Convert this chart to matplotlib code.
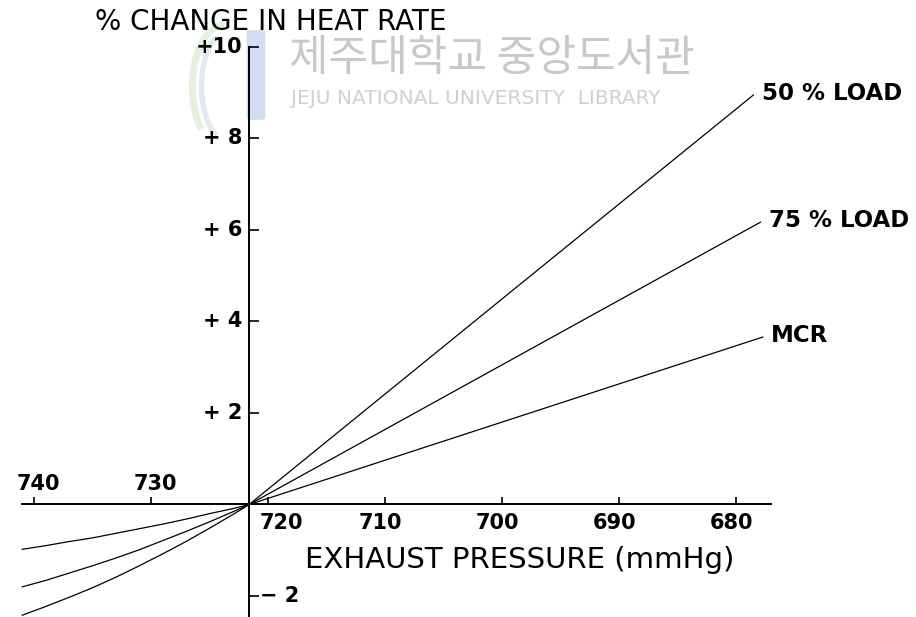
import matplotlib
matplotlib.use("Agg")
import matplotlib.pyplot as plt
from matplotlib.patches import FancyBboxPatch, Arc

# exhaust pressure (mmHg) and % change in heat rate
origin_p = 721.6
left_p = [741, 739, 737, 735, 733, 731, 729, 727, 725, 723, origin_p]

mcr_p = left_p + [700.0, 677.7]
mcr_v = [-0.98, -0.90, -0.81, -0.73, -0.63, -0.53, -0.43, -0.32, -0.20, -0.09, 0.0, 1.80, 3.66]

load75_p = left_p + [700.0, 677.9]
load75_v = [-1.80, -1.66, -1.50, -1.34, -1.17, -0.99, -0.79, -0.59, -0.38, -0.16, 0.0, 3.05, 6.17]

load50_p = left_p + [700.0, 678.5]
load50_v = [-2.42, -2.23, -2.03, -1.82, -1.59, -1.34, -1.08, -0.81, -0.52, -0.22, 0.0, 4.49, 8.95]

series_names = ["50 % LOAD", "75 % LOAD", "MCR"]

x_ticks = [740, 730, 720, 710, 700, 690, 680]
x_upper = ["740", "730"]
x_lower = ["720", "710", "700", "690", "680"]
y_ticks = [10, 8, 6, 4, 2, -2]
y_labels = ["+10", "+ 8", "+ 6", "+ 4", "+ 2", "\u2212 2"]

fig = plt.figure(figsize=(9.16, 6.17), dpi=100)
ax = fig.add_axes([0, 0, 1, 1])
ax.set_xlim(742.9, 664.6)
ax.set_ylim(-2.459, 11.027)

# cross-shaped axes through (origin_p, 0)
for side in ("top", "right"):
    ax.spines[side].set_visible(False)
ax.spines["left"].set_position(("data", origin_p))
ax.spines["bottom"].set_position(("data", 0))
ax.spines["left"].set_bounds(-2.459, 10)
ax.spines["bottom"].set_bounds(677.0, 741.0)
for side in ("left", "bottom"):
    ax.spines[side].set_linewidth(1.4)
    ax.spines[side].set_zorder(4)
ax.set_xticks(x_ticks)
ax.set_yticks(y_ticks)
ax.tick_params(axis="x", direction="in", length=5, width=1.2, labelbottom=False)
ax.tick_params(axis="y", direction="in", length=7, width=1.2, labelleft=False)
ax.patch.set_visible(False)

tick_font = dict(family="DejaVu Sans", fontsize=15, fontweight="bold", color="black", zorder=6)

# faint library watermark (logo + text), kept behind everything
ax.add_patch(Arc((0.245, 0.86), 0.07, 0.20, theta1=90, theta2=250, transform=fig.transFigure,
                 color="#e6f0df", lw=5, zorder=0))
ax.add_patch(Arc((0.250, 0.86), 0.06, 0.18, theta1=100, theta2=260, transform=fig.transFigure,
                 color="#e0eaf2", lw=4, zorder=0))
ax.add_patch(FancyBboxPatch((0.273, 0.81), 0.013, 0.137, boxstyle="round,pad=0.003",
                            transform=fig.transFigure, color="#d2ddf0", zorder=0))
ax.text(0.316, 0.905, "제주대학교 중앙도서관", transform=fig.transFigure,
        family="Noto Sans CJK KR", fontsize=31, color="#c8c8c8", va="center", ha="left", zorder=0)
ax.text(0.318, 0.840, "JEJU NATIONAL UNIVERSITY  LIBRARY", transform=fig.transFigure,
        family="DejaVu Sans", fontsize=14.5, color="#d0d0d0", va="center", ha="left", zorder=0)

for val, lab in zip(x_ticks[:2], x_upper):
    ax.annotate(lab, xy=(val, 0), xytext=(3, 15), textcoords="offset points",
                ha="center", va="center", **tick_font)
for val, lab in zip(x_ticks[2:], x_lower):
    dx = 10 if lab == "720" else -3
    ax.annotate(lab, xy=(val, 0), xytext=(dx, -13), textcoords="offset points",
                ha="center", va="center", **tick_font)
for val, lab in zip(y_ticks, y_labels):
    if val > 0:
        ax.annotate(lab, xy=(origin_p, val), xytext=(-5, 0), textcoords="offset points",
                    ha="right", va="center", **tick_font)
    else:
        ax.annotate(lab, xy=(origin_p, val), xytext=(8, 0), textcoords="offset points",
                    ha="left", va="center", **tick_font)

# curves
label_font = dict(tick_font, fontsize=16.5)
for name, p, v in zip(series_names, [load50_p, load75_p, mcr_p], [load50_v, load75_v, mcr_v]):
    ax.plot(p, v, color="black", lw=0.9, zorder=3)
    ax.annotate(name, xy=(p[-1], v[-1]), xytext=(6, 1), textcoords="offset points",
                ha="left", va="center", **label_font)

fig.text(95 / 916, 1 - 22 / 617, "% CHANGE IN HEAT RATE", family="DejaVu Sans",
         fontsize=20, va="center", ha="left", zorder=6)
fig.text(305 / 916, 1 - 560 / 617, "EXHAUST PRESSURE (mmHg)", family="DejaVu Sans",
         fontsize=21, va="center", ha="left", zorder=6)

fig.savefig("out.png", dpi=100, facecolor="white")
